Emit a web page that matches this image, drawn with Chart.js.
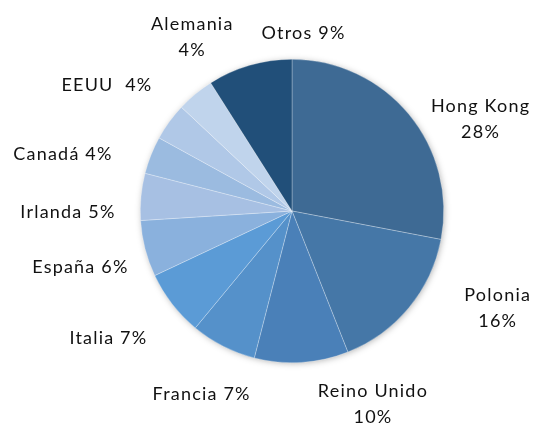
<!DOCTYPE html>
<html>
<head>
<meta charset="utf-8">
<script src="https://cdn.jsdelivr.net/npm/chart.js"></script>
<style>
  html, body { margin: 0; padding: 0; background: #ffffff; }
  #wrap { width: 535px; height: 424px; }
</style>
</head>
<body>
<div id="wrap"><canvas id="pie" width="535" height="424"></canvas></div>
<script>
// data
const paises = ['Hong Kong', 'Polonia', 'Reino Unido', 'Francia', 'Italia', 'España', 'Irlanda', 'Canadá', 'EEUU', 'Alemania', 'Otros'];
const porcentajes = [28, 16, 10, 7, 7, 6, 5, 4, 4, 4, 9];

// styles
const colores = ['#3e6a94', '#4577a7', '#4a80b8', '#5591ca', '#5b9bd6', '#8ab1dd', '#a7c0e3', '#9bbbe0', '#b0c8e7', '#c0d4ec', '#214f79'];
// label placement (Excel "best fit" look): angle nudge in degrees, distance as factor of radius, two lines or not
const labelNudge = [13.6, -14.2, -19.1, -0.8, 3.0, -0.4, -5.7, -7.6, -1.8, 9.8, 19.9];
const labelDist = [1.383, 1.501, 1.383, 1.349, 1.474, 1.443, 1.477, 1.556, 1.475, 1.323, 1.174];
const labelTwoLines = [true, true, true, false, false, false, false, false, false, true, false];
const labelSep = ['', '', '', ' ', ' ', ' ', ' ', ' ', '  ', '', ' '];

const fontFam = 'Lato, "Open Sans", sans-serif';

const sombra = {
  id: 'sombra',
  beforeDatasetsDraw(chart) {
    const arc = chart.getDatasetMeta(0).data[0];
    if (!arc) return;
    const ctx = chart.ctx;
    ctx.save();
    ctx.shadowColor = 'rgba(0,0,0,0.35)';
    ctx.shadowBlur = 7;
    ctx.shadowOffsetX = 1;
    ctx.shadowOffsetY = 1;
    ctx.fillStyle = '#ffffff';
    ctx.beginPath();
    ctx.arc(arc.x, arc.y, arc.outerRadius - 1, 0, Math.PI * 2);
    ctx.fill();
    ctx.restore();
  }
};

const etiquetas = {
  id: 'etiquetas',
  afterDatasetsDraw(chart) {
    const ctx = chart.ctx;
    const meta = chart.getDatasetMeta(0);
    ctx.save();
    ctx.fillStyle = '#111111';
    ctx.font = '18px ' + fontFam;
    ctx.letterSpacing = '1.2px';
    ctx.textAlign = 'center';
    ctx.textBaseline = 'middle';
    meta.data.forEach((arc, i) => {
      const mid = (arc.startAngle + arc.endAngle) / 2 + labelNudge[i] * Math.PI / 180;
      const r = arc.outerRadius * labelDist[i];
      const x = arc.x + Math.cos(mid) * r;
      const y = arc.y + Math.sin(mid) * r;
      const pct = porcentajes[i] + '%';
      if (labelTwoLines[i]) {
        ctx.fillText(paises[i], x, y - 13);
        ctx.fillText(pct, x, y + 13);
      } else {
        ctx.fillText(paises[i] + labelSep[i] + pct, x, y);
      }
    });
    ctx.restore();
  }
};

new Chart(document.getElementById('pie'), {
  type: 'pie',
  data: {
    labels: paises,
    datasets: [{
      data: porcentajes,
      backgroundColor: colores,
      borderColor: 'rgba(255,255,255,0.45)',
      borderWidth: 0.6
    }]
  },
  options: {
    responsive: false,
    animation: false,
    layout: { padding: { left: 140, right: 91, top: 59, bottom: 61 } },
    plugins: {
      legend: { display: false },
      tooltip: { enabled: false }
    }
  },
  plugins: [sombra, etiquetas]
});
</script>
</body>
</html>
